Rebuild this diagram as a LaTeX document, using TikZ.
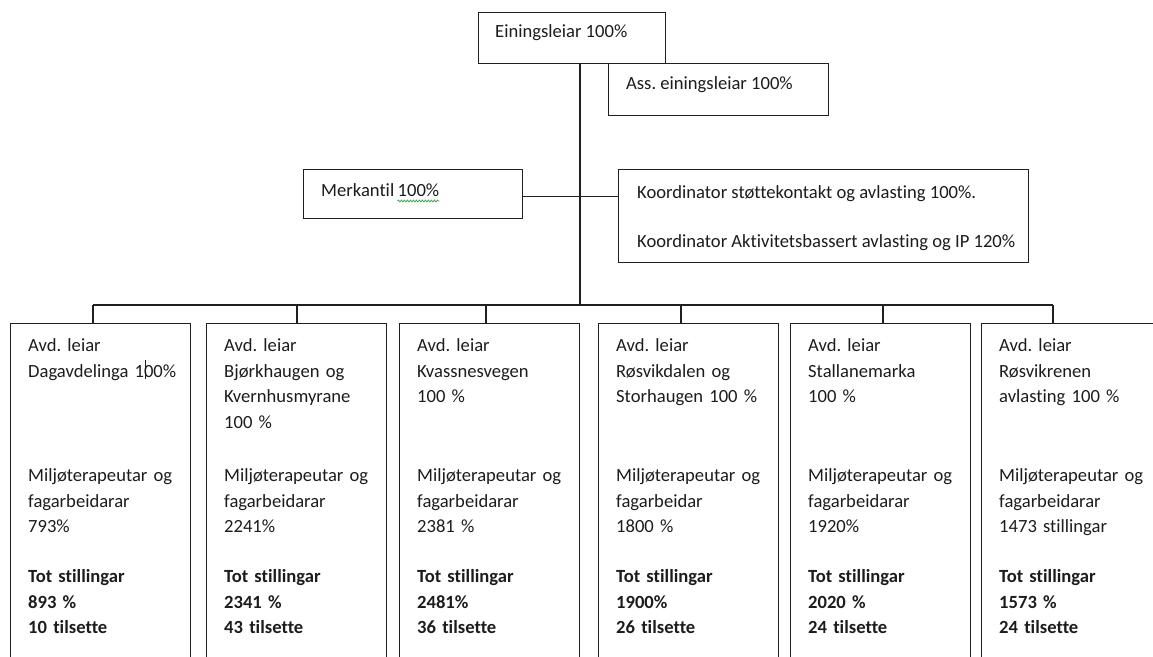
\documentclass[tikz,border=0pt]{standalone}
\usepackage{fontspec}
\setmainfont{Carlito}[Ligatures={NoCommon,NoContextual}]
\usetikzlibrary{decorations.pathmorphing}

\definecolor{ink}{HTML}{1C1C1C}
\definecolor{linecol}{HTML}{202020}
\definecolor{spellgreen}{HTML}{3FA34D}

\begin{document}
\frenchspacing
\begin{tikzpicture}[x=1bp, y=-1bp,
  box/.style={draw=linecol, line width=1.2bp, rectangle, inner sep=0pt, anchor=north west},
  wire/.style={draw=linecol, line width=1.2bp},
  plain/.style={anchor=base west, inner sep=0pt, text=ink, font=\fontsize{18.6bp}{25.5bp}\selectfont},
  para/.style={plain, text width=172bp, align=left},
  boldpara/.style={para, font=\fontsize{18.6bp}{25.5bp}\selectfont\bfseries}]

\useasboundingbox (0,0) rectangle (1153,657);
\clip (0,0) rectangle (1153,657);

% management boxes
\node[box, minimum width=187bp, minimum height=51bp] (lead) at (478,12) {};
\node[box, minimum width=220bp, minimum height=52bp] (ass) at (608,63) {};
\node[box, minimum width=219bp, minimum height=49bp] (merk) at (303,169) {};
\node[box, minimum width=410bp, minimum height=93bp] (koord) at (618,169) {};

\node[plain] (leadt) at (495,38) {Einingsleiar 100\%};
\node[plain] (asst) at (626,90) {Ass. einingsleiar 100\%};
\node[plain] (merkt) at (321,197) {Merkantil};
\node[plain] (merkp) at ([xshift=3bp]merkt.base east) {100\%};
\node[plain] (koorda) at (637,199) {Koordinator støttekontakt og avlasting 100\%.};
\node[plain] (koordb) at (637,247) {Koordinator Aktivitetsbassert avlasting og IP 120\%};

% spell-check mark under the percentage
\draw[spellgreen, line width=0.8bp, decorate,
      decoration={snake, amplitude=0.9bp, segment length=3bp}]
  ([yshift=-4bp]merkp.base west) -- ([yshift=-4bp]merkp.base east);

% trunk and side branch
\coordinate (hub) at (580,305);
\draw[wire] (lead.south -| hub) -- (hub);
\draw[wire] ([yshift=-2.5bp]merk.east) -- ([yshift=-2.5bp]merk.east -| koord.west);

% department bus
\coordinate (j1) at (93,305);
\coordinate (j2) at (297,305);
\coordinate (j3) at (486,305);
\coordinate (j4) at (681,305);
\coordinate (j5) at (883,305);
\coordinate (j6) at (1053,305);
\draw[wire] (j1) -- (j6);

\foreach \i/\x/\head/\mil/\tot in {
  1/10/{Avd. leiar\\Dagavdelinga 1\rlap{\hspace{0.8bp}\rule[-1.5bp]{0.9bp}{19bp}}00\%}/{Miljøterapeutar og\\fagarbeidarar\\793\%}/{Tot stillingar\\893 \%\\10 tilsette},
  2/206/{Avd. leiar\\Bjørkhaugen og\\Kvernhusmyrane\\100 \%}/{Miljøterapeutar og\\fagarbeidarar\\2241\%}/{Tot stillingar\\2341 \%\\43 tilsette},
  3/399/{Avd. leiar\\Kvassnesvegen\\100 \%}/{Miljøterapeutar og\\fagarbeidarar\\2381 \%}/{Tot stillingar\\2481\%\\36 tilsette},
  4/598/{Avd. leiar\\Røsvikdalen og\\Storhaugen 100 \%}/{Miljøterapeutar og\\fagarbeidar\\1800 \%}/{Tot stillingar\\1900\%\\26 tilsette},
  5/790/{Avd. leiar\\Stallanemarka\\100 \%}/{Miljøterapeutar og\\fagarbeidarar\\1920\%}/{Tot stillingar\\2020 \%\\24 tilsette},
  6/981/{Avd. leiar\\Røsvikrenen\\avlasting 100 \%}/{Miljøterapeutar og\\fagarbeidarar\\1473 stillingar}/{Tot stillingar\\1573 \%\\24 tilsette}}
{
  \node[box, minimum width=180bp, minimum height=360bp] (b\i) at (\x,323) {};
  \draw[wire] (j\i) -- (j\i |- b\i.north);
  \node[para] (h\i) at (\x+18,351.5) {\head};
  \node[para] (m\i) at (\x+18,481.5) {\mil};
  \node[boldpara] (t\i) at (\x+18,582.5) {\tot};
}
\end{tikzpicture}
\end{document}
